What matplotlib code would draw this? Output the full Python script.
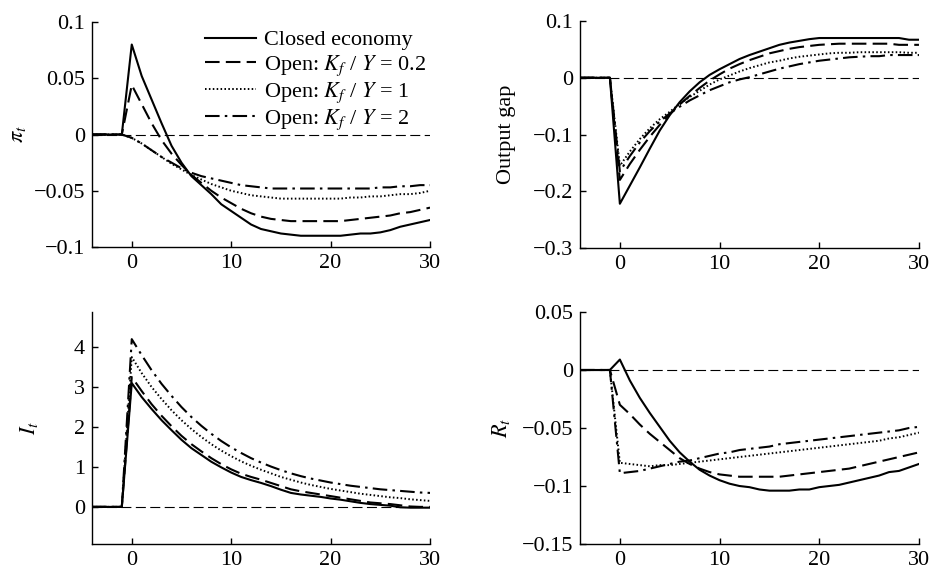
import numpy as np
import matplotlib
matplotlib.use("Agg")
import matplotlib.pyplot as plt
from matplotlib.ticker import FuncFormatter

################### Data ##########################################
# periods before the shock are all zero, values below start at t = 0
t_pre = [-4, -3, -2, -1]
t_post = list(range(0, 31))

series_labels = ["Closed economy",
                 "Open: $K_f$ / $Y$ = 0.2",
                 "Open: $K_f$ / $Y$ = 1",
                 "Open: $K_f$ / $Y$ = 2"]

# inflation
pi_closed = [0.080, 0.052, 0.031, 0.010, -0.010, -0.025, -0.037, -0.045,
             -0.053, -0.062, -0.068, -0.074, -0.080, -0.084, -0.086, -0.088,
             -0.089, -0.090, -0.090, -0.090, -0.090, -0.090, -0.089, -0.088,
             -0.088, -0.087, -0.085, -0.082, -0.080, -0.078, -0.076]
pi_k02 = [0.044, 0.027, 0.010, -0.005, -0.017, -0.027, -0.036, -0.043,
          -0.050, -0.056, -0.061, -0.066, -0.070, -0.073, -0.075, -0.076,
          -0.077, -0.077, -0.077, -0.077, -0.077, -0.077, -0.076, -0.075,
          -0.074, -0.073, -0.072, -0.070, -0.069, -0.067, -0.065]
pi_k1 = [-0.003, -0.008, -0.014, -0.020, -0.026, -0.031, -0.036, -0.040,
         -0.044, -0.047, -0.050, -0.052, -0.054, -0.055, -0.056, -0.057,
         -0.057, -0.057, -0.057, -0.057, -0.057, -0.057, -0.056, -0.056,
         -0.055, -0.055, -0.054, -0.053, -0.053, -0.052, -0.050]
pi_k2 = [-0.003, -0.008, -0.014, -0.020, -0.025, -0.030, -0.034, -0.037,
         -0.039, -0.041, -0.043, -0.045, -0.046, -0.047, -0.048, -0.048,
         -0.048, -0.048, -0.048, -0.048, -0.048, -0.048, -0.048, -0.048,
         -0.048, -0.047, -0.047, -0.046, -0.046, -0.045, -0.045]

# output gap
gap_closed = [-0.222, -0.190, -0.158, -0.125, -0.093, -0.066, -0.043,
              -0.024, -0.008, 0.005, 0.015, 0.024, 0.033, 0.040, 0.046,
              0.052, 0.058, 0.062, 0.065, 0.068, 0.070, 0.070, 0.070, 0.070,
              0.070, 0.070, 0.070, 0.070, 0.070, 0.067, 0.067]
gap_k02 = [-0.180, -0.152, -0.127, -0.104, -0.083, -0.064, -0.047, -0.032,
           -0.018, -0.005, 0.006, 0.016, 0.024, 0.031, 0.037, 0.043, 0.047,
           0.051, 0.054, 0.056, 0.058, 0.059, 0.060, 0.060, 0.060, 0.060,
           0.060, 0.060, 0.058, 0.058, 0.058]
gap_k1 = [-0.155, -0.130, -0.108, -0.089, -0.073, -0.060, -0.046, -0.034,
          -0.023, -0.012, -0.003, 0.004, 0.011, 0.017, 0.022, 0.027, 0.030,
          0.034, 0.037, 0.039, 0.041, 0.043, 0.044, 0.044, 0.045, 0.045,
          0.045, 0.045, 0.045, 0.044, 0.044]
gap_k2 = [-0.165, -0.138, -0.114, -0.094, -0.077, -0.063, -0.051, -0.040,
          -0.031, -0.022, -0.015, -0.008, -0.003, 0.001, 0.006, 0.011, 0.016,
          0.020, 0.024, 0.027, 0.030, 0.032, 0.034, 0.036, 0.037, 0.038,
          0.038, 0.040, 0.040, 0.040, 0.040]

# investment
inv_closed = [3.10, 2.75, 2.45, 2.17, 1.92, 1.68, 1.47, 1.30, 1.13, 0.99,
              0.86, 0.75, 0.67, 0.60, 0.52, 0.43, 0.35, 0.31, 0.28, 0.25,
              0.21, 0.18, 0.14, 0.10, 0.07, 0.05, 0.03, -0.01, -0.02, -0.02,
              -0.02]
inv_k02 = [3.25, 2.90, 2.57, 2.28, 2.02, 1.78, 1.57, 1.39, 1.22, 1.07,
           0.94, 0.83, 0.75, 0.68, 0.60, 0.52, 0.44, 0.39, 0.35, 0.31, 0.27,
           0.23, 0.19, 0.15, 0.11, 0.09, 0.07, 0.04, 0.01, 0.00, 0.00]
inv_k1 = [3.75, 3.35, 3.00, 2.70, 2.42, 2.17, 1.95, 1.75, 1.57, 1.41, 1.27,
          1.14, 1.03, 0.93, 0.84, 0.75, 0.68, 0.61, 0.55, 0.50, 0.45, 0.41,
          0.37, 0.33, 0.30, 0.27, 0.24, 0.22, 0.19, 0.17, 0.15]
inv_k2 = [4.20, 3.80, 3.42, 3.08, 2.78, 2.50, 2.25, 2.03, 1.83, 1.65, 1.49,
          1.35, 1.22, 1.11, 1.01, 0.92, 0.84, 0.77, 0.71, 0.66, 0.61, 0.57,
          0.53, 0.50, 0.47, 0.44, 0.42, 0.40, 0.38, 0.36, 0.35]

# interest rate
rate_closed = [0.009, -0.009, -0.024, -0.037, -0.049, -0.061, -0.071,
               -0.079, -0.086, -0.091, -0.095, -0.098, -0.100, -0.101,
               -0.103, -0.104, -0.104, -0.104, -0.103, -0.103, -0.101,
               -0.100, -0.099, -0.097, -0.095, -0.093, -0.091, -0.088,
               -0.087, -0.084, -0.081]
rate_k02 = [-0.030, -0.038, -0.047, -0.055, -0.062, -0.069, -0.076, -0.081,
            -0.085, -0.088, -0.090, -0.091, -0.092, -0.092, -0.092, -0.092,
            -0.092, -0.091, -0.090, -0.089, -0.088, -0.087, -0.086, -0.085,
            -0.083, -0.081, -0.079, -0.077, -0.075, -0.073, -0.071]
rate_k1 = [-0.080, -0.081, -0.082, -0.083, -0.082, -0.082, -0.081, -0.080,
           -0.079, -0.078, -0.077, -0.076, -0.075, -0.074, -0.073, -0.072,
           -0.071, -0.070, -0.069, -0.068, -0.067, -0.066, -0.065, -0.064,
           -0.063, -0.062, -0.061, -0.059, -0.058, -0.056, -0.054]
rate_k2 = [-0.089, -0.088, -0.087, -0.085, -0.083, -0.081, -0.079, -0.078,
           -0.076, -0.074, -0.072, -0.071, -0.069, -0.068, -0.067, -0.066,
           -0.064, -0.063, -0.062, -0.061, -0.060, -0.059, -0.058, -0.057,
           -0.056, -0.055, -0.054, -0.053, -0.052, -0.050, -0.049]

# axis settings
xticks = [0, 10, 20, 30]
pi_yticks = [-0.1, -0.05, 0, 0.05, 0.1]
gap_yticks = [-0.3, -0.2, -0.1, 0, 0.1]
inv_yticks = [0, 1, 2, 3, 4]
rate_yticks = [-0.15, -0.1, -0.05, 0, 0.05]
###################################################################

plt.rcParams['font.family'] = ['Liberation Serif', 'DejaVu Serif']
plt.rcParams['mathtext.fontset'] = 'stix'
plt.rcParams['font.size'] = 16

line_styles = [dict(linestyle='-', linewidth=1.5),
               dict(linestyle=(0, (7, 3)), linewidth=1.5),
               dict(linestyle=(0, (0.8, 1.2)), linewidth=1.4),
               dict(linestyle=(0, (7, 2.5, 1.2, 2.5)), linewidth=1.5)]


def tickLabel(v, pos):
    s = '%g' % v
    return s.replace('-', '\u2212')


def drawPanel(ax, curves, ylabel, ylim, yticks, label_x):
    t = np.array(t_pre + t_post)
    ax.plot([-4, 30], [0, 0], color='black', linewidth=0.8,
            linestyle=(0, (9, 4)))
    for values, style, label in zip(curves, line_styles, series_labels):
        y = np.concatenate([np.zeros(len(t_pre)), np.array(values)])
        ax.plot(t, y, color='black', label=label, **style)
    ax.set_xlim(-4, 30)
    ax.set_ylim(*ylim)
    ax.set_xticks(xticks)
    ax.set_yticks(yticks)
    ax.yaxis.set_major_formatter(FuncFormatter(tickLabel))
    ax.spines['top'].set_visible(False)
    ax.spines['right'].set_visible(False)
    ax.spines['left'].set_linewidth(1.0)
    ax.spines['bottom'].set_linewidth(1.0)
    ax.tick_params(direction='in', length=4, width=1.0, pad=5)
    ax.set_ylabel(ylabel)
    ax.yaxis.set_label_coords(label_x, 0.5)


fig = plt.figure(figsize=(9.32, 5.69), dpi=100)
ax_pi = fig.add_axes([0.0987, 0.5659, 0.3627, 0.3954])
ax_gap = fig.add_axes([0.6223, 0.5641, 0.3637, 0.3990])
ax_inv = fig.add_axes([0.0987, 0.0439, 0.3627, 0.4078])
ax_rate = fig.add_axes([0.6223, 0.0439, 0.3637, 0.4078])

drawPanel(ax_pi, [pi_closed, pi_k02, pi_k1, pi_k2], r'$\pi_t$',
          (-0.1, 0.1), pi_yticks, -0.19)
drawPanel(ax_gap, [gap_closed, gap_k02, gap_k1, gap_k2], 'Output gap',
          (-0.3, 0.1), gap_yticks, -0.19)
drawPanel(ax_inv, [inv_closed, inv_k02, inv_k1, inv_k2], r'$I_t$',
          (-0.93, 4.88), inv_yticks, -0.155)
drawPanel(ax_rate, [rate_closed, rate_k02, rate_k1, rate_k2], r'$R_t$',
          (-0.15, 0.05), rate_yticks, -0.20)

# legend only in the first panel
ax_pi.legend(loc='upper right', bbox_to_anchor=(1.0, 0.985), frameon=False,
             handlelength=2.3, handletextpad=0.35, labelspacing=0.12,
             borderpad=0.2, borderaxespad=0.0)

plt.savefig('out.png', dpi=100)
